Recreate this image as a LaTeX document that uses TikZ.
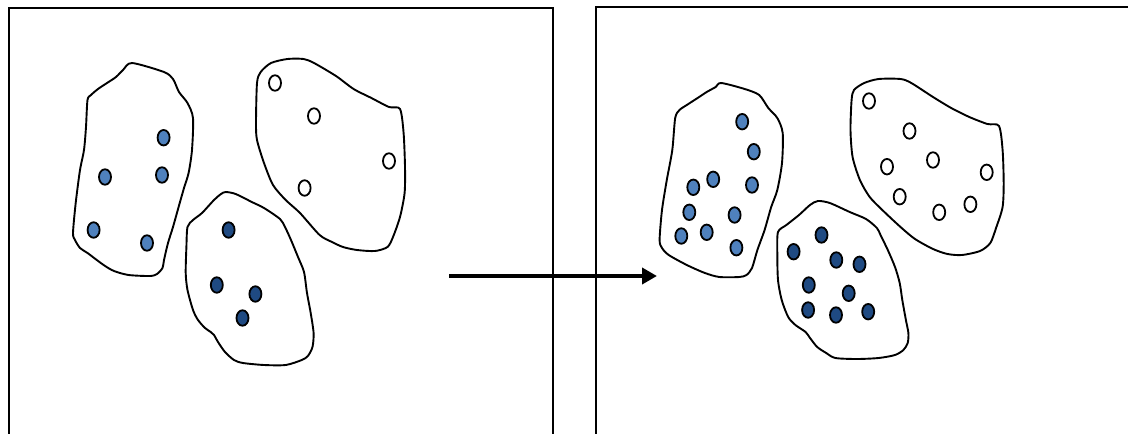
\documentclass[tikz,border=0pt]{standalone}
\usetikzlibrary{shapes.geometric,arrows.meta}
\definecolor{lightdot}{HTML}{4F81BD}
\definecolor{darkdot}{HTML}{1F4A82}
\tikzset{
  frameline/.style={line width=1.5pt, black},
  blob/.style={line width=1.9pt, black, smooth cycle, tension=0.45},
  dotbase/.style={ellipse, draw=black, line width=1.8pt, minimum width=12pt, minimum height=15.5pt, inner sep=0pt},
  ldot/.style={dotbase, fill=lightdot},
  ddot/.style={dotbase, fill=darkdot},
  wdot/.style={dotbase, fill=white},
  bigarrow/.style={line width=4.5pt, -{Triangle[length=15pt,width=16pt]}}
}
\begin{document}
\begin{tikzpicture}[x=1pt,y=-1pt]
\useasboundingbox (0,0) rectangle (1128,434);
\clip (0,0) rectangle (1128,434);
\fill[white] (0,0) rectangle (1128,434);
% frames
\draw[frameline] (9,440) -- (9,8) -- (553,8) -- (553,440);
\draw[frameline] (596,440) -- (596,7) -- (1135,7);
% ---------- left panel ----------
\draw[blob] plot coordinates {(132,63) (164,72) (173,79) (179,92) (187.5,103) (193,118) (192,150) (188.6,173) (184,188) (178.6,207) (173,227) (168,243) (164,260) (162.5,268) (157,274) (150,276) (128.6,275) (114,271) (103.6,265) (87.5,253) (80,248) (75,240) (73,233) (75.7,203) (80,170) (84,150) (86,127) (87.5,100) (91,95) (98,89) (107,83) (116,77) (123,70)};
\draw[blob] plot coordinates {(287.5,59) (303.6,59) (314,63) (336,76) (353.6,89) (371.4,98) (389,107) (400,109) (403.6,133) (405,167) (404.6,193) (400,217) (393,237) (387.5,247) (375,251) (357,250) (343,247) (332,242) (319.6,235) (300,213) (285.7,200) (273,185) (264,163) (257,140) (256,123) (257,83) (260.7,72) (271,63)};
\draw[blob] plot coordinates {(225.7,192) (235.7,194) (251.8,202) (264,208) (280,219) (285,227) (291,240) (298,257) (304,272) (307,293) (310.7,313) (313.6,333) (312.5,347) (307.9,356) (301.8,360) (285.7,365) (264,365) (243,363) (234,360) (225,352) (218,342) (214,335) (210.7,332) (205,328) (198,320) (193,310) (187.5,290) (185.7,273) (186.4,247) (187.5,227) (193,220) (202,213) (214,200) (221,194)};
\foreach \x/\y [count=\i] in {163.6/137.7, 105/177, 162/175, 93.6/230, 147/243}
  \node[ldot] (la\i) at (\x,\y) {};
\foreach \x/\y [count=\i] in {275/83, 314/116, 389/161, 304.6/188}
  \node[wdot] (lb\i) at (\x,\y) {};
\foreach \x/\y [count=\i] in {228.6/230, 216.8/285, 255.4/294, 242.5/318}
  \node[ddot] (lc\i) at (\x,\y) {};
% ---------- right panel ----------
\draw[blob] plot coordinates {(721.2,83) (744.7,89) (759.2,95) (768.3,108) (777.3,118) (782.7,133) (782,163) (777.3,190) (771.2,207) (764.6,230) (757.4,250) (752,268) (746.5,275) (739.3,277) (719.4,277) (704.9,273) (686.8,265) (668.7,255) (662,248) (659.6,240) (662,210) (666.8,180) (672.3,150) (675.2,118) (679.5,110) (686.8,105) (697.6,98) (706.7,92) (715.7,87)};
\draw[blob] plot coordinates {(878.7,79) (900.5,79) (911.3,83) (933,97) (951.2,108) (969.3,117) (987.4,124) (999,126) (1002.6,150) (1003.7,183) (1002.6,207) (996.4,227) (990.3,243) (980,251) (962,255) (947.5,254) (933,249) (915,239) (900.5,227) (882.3,210) (869.7,197) (859.9,180) (852.6,157) (850.5,130) (851.6,100) (854,90) (864.2,83)};
\draw[blob] plot coordinates {(817.9,201) (829.8,203) (849.7,212) (866,219) (876.9,228) (880.5,235) (887.8,250) (895,267) (899.7,283) (902.3,300) (905.9,320) (908.4,333) (907.7,343) (903.4,350) (895,355) (878.7,358) (857,359) (835.3,358) (826.2,353) (817.2,347) (810,338) (805.6,332) (795.4,325) (788.2,317) (781.7,300) (778,280) (777.3,253) (778,232) (786.4,225) (799,215) (810,205)};
\foreach \x/\y [count=\i] in {742.2/121.7, 753.8/151.7, 713.2/179.3, 693.3/187.3, 752/185, 689.3/212.3, 734.6/215, 681.3/236, 706.7/232.3, 736.4/247.7}
  \node[ldot] (ra\i) at (\x,\y) {};
\foreach \x/\y [count=\i] in {869/101, 909.5/131, 887/166.7, 933/160, 986.7/172.3, 899.7/196.7, 939.2/212.3, 970.4/204.3}
  \node[wdot] (rb\i) at (\x,\y) {};
\foreach \x/\y [count=\i] in {821.5/235, 793.6/251.7, 836.3/260, 859.5/264.3, 808.8/285, 848.7/293.3, 808.1/310, 836/315, 868.2/311.7}
  \node[ddot] (rc\i) at (\x,\y) {};
% ---------- arrow ----------
\coordinate (arrS) at (449,276);
\coordinate (arrE) at (657,276);
\draw[bigarrow] (arrS) -- (arrE);
\end{tikzpicture}
\end{document}
